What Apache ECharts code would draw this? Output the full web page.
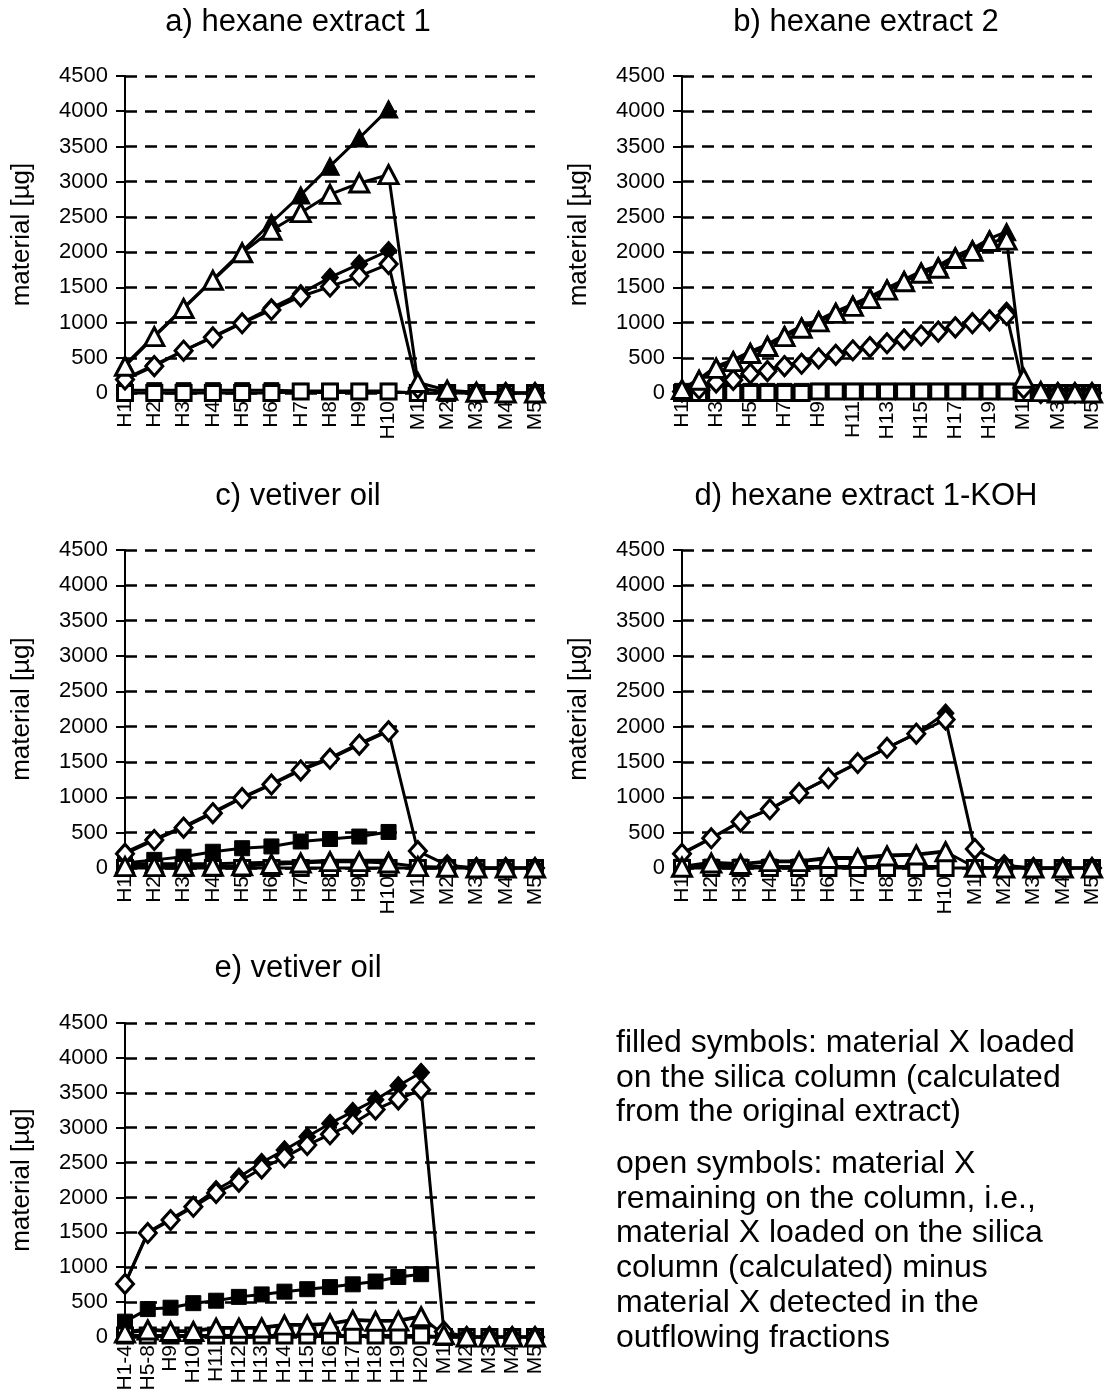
<!DOCTYPE html>
<html>
<head>
<meta charset="utf-8">
<title>Silica column elution profiles</title>
<script src="https://cdn.jsdelivr.net/npm/echarts@6/dist/echarts.min.js"></script>
<style>
  html, body { margin: 0; padding: 0; background: #fff; }
  #chart { width: 1106px; height: 1390px; }
</style>
</head>
<body>
<div id="chart"></div>
<script>
// ---- fraction labels ----
const catsA = ['H1','H2','H3','H4','H5','H6','H7','H8','H9','H10','M1','M2','M3','M4','M5'];
const catsB = ['H1','H2','H3','H4','H5','H6','H7','H8','H9','H10','H11','H12','H13','H14','H15','H16','H17','H18','H19','H20','M1','M2','M3','M4','M5'];
const catsC = catsA;
const catsD = catsA;
const catsE = ['H1-4','H5-8','H9','H10','H11','H12','H13','H14','H15','H16','H17','H18','H19','H20','M1','M2','M3','M4','M5'];

const yTicks = [0, 500, 1000, 1500, 2000, 2500, 3000, 3500, 4000, 4500];

// ---- a) hexane extract 1 (µg) ----
const aLoadedTri = [400, 810, 1210, 1610, 2010, 2420, 2810, 3220, 3620, 4030];
const aLoadedDia = [200, 400, 600, 800, 1000, 1210, 1410, 1640, 1830, 2020];
const aLoadedSq  = [40, 40, 40, 40, 40, 40, 30, 30, 30, 30];
const aRemainTri = [380, 800, 1200, 1600, 1990, 2310, 2560, 2820, 2980, 3100, 150, 40, 10, 0, 0];
const aRemainDia = [190, 380, 600, 790, 990, 1180, 1370, 1510, 1660, 1830, 70, 10, 0, 0, 0];
const aRemainSq  = [0, 0, 0, 0, 0, 0, 20, 20, 20, 20, 0, 0, 0, 0, 0];

// ---- b) hexane extract 2 ----
const bLoadedTri = [60, 200, 380, 470, 590, 690, 830, 950, 1040, 1160, 1260, 1370, 1490, 1610, 1730, 1810, 1950, 2050, 2190, 2290];
const bLoadedDia = [30, 80, 170, 200, 290, 330, 400, 430, 510, 560, 620, 670, 720, 780, 830, 890, 950, 1010, 1050, 1160];
const bLoadedSq  = [30, 30, 30, 30, 30, 30, 30, 30, 30, 30, 30, 30, 30, 30, 30, 30, 30, 30, 30, 30];
const bRemainTri = [50, 180, 350, 445, 560, 660, 800, 920, 1010, 1130, 1230, 1340, 1460, 1580, 1700, 1770, 1910, 2010, 2150, 2170, 210, 20, 0, 0, 0];
const bRemainDia = [20, 60, 150, 185, 275, 310, 380, 415, 490, 540, 605, 650, 705, 757, 815, 871, 930, 989, 1030, 1107, 66, 0, 0, 0, 0];
const bRemainSq  = [0, 0, 0, 0, 0, 0, 0, 0, 20, 20, 20, 20, 20, 20, 20, 20, 20, 20, 20, 20, 0, 0, 0, 0, 0];

// ---- c) vetiver oil ----
const cLoadedTri = [60, 60, 60, 60, 70, 80, 90, 110, 110, 110];
const cLoadedDia = [220, 410, 585, 790, 1000, 1190, 1395, 1560, 1760, 1950];
const cLoadedSq  = [70, 115, 160, 230, 280, 305, 375, 410, 445, 510];
const cRemainTri = [20, 20, 25, 25, 30, 50, 70, 90, 90, 70, 20, 10, 0, 0, 0];
const cRemainDia = [200, 395, 570, 775, 990, 1180, 1380, 1545, 1745, 1935, 240, 40, 0, 0, 0];
const cRemainSq  = [0, 0, 0, 0, 0, 0, 0, 0, 0, 0, 0, 0, 0, 0, 0];

// ---- d) hexane extract 1-KOH ----
const dLoadedTri = [20, 80, 60, 100, 100, 150, 150, 185, 195, 240];
const dLoadedDia = [210, 425, 660, 835, 1060, 1275, 1490, 1700, 1905, 2190];
const dLoadedSq  = [20, 20, 20, 20, 20, 20, 20, 20, 20, 20];
const dRemainTri = [10, 70, 50, 90, 90, 135, 135, 170, 185, 230, 10, 0, 0, 0, 0];
const dRemainDia = [200, 420, 655, 830, 1060, 1270, 1485, 1700, 1900, 2100, 270, 40, 0, 0, 0];
const dRemainSq  = [0, 0, 0, 0, 0, 0, 0, 0, 0, 0, 0, 0, 0, 0, 0];

// ---- e) vetiver oil ----
const eLoadedTri = [80, 110, 90, 90, 135, 135, 140, 180, 180, 195, 250, 235, 240, 300];
const eLoadedDia = [770, 1500, 1690, 1880, 2110, 2290, 2500, 2680, 2870, 3060, 3230, 3400, 3600, 3790];
const eLoadedSq  = [220, 400, 420, 485, 520, 575, 610, 650, 685, 715, 755, 795, 860, 900];
const eRemainTri = [55, 100, 80, 80, 125, 125, 130, 170, 170, 185, 240, 225, 230, 290, 30, 0, 0, 0, 0];
const eRemainDia = [760, 1490, 1675, 1865, 2065, 2225, 2415, 2575, 2750, 2905, 3060, 3260, 3405, 3545, 80, 0, 0, 0, 0];
const eRemainSq  = [20, 20, 20, 20, 20, 20, 20, 20, 20, 20, 20, 20, 20, 20, 0, 0, 0, 0, 0];

const panelTitles = ['a) hexane extract 1', 'b) hexane extract 2', 'c) vetiver oil', 'd) hexane extract 1-KOH', 'e) vetiver oil'];
const yName = 'material [µg]';

const noteLoaded = ['filled symbols: material X loaded', 'on the silica column (calculated', 'from the original extract)'];
const noteRemain = ['open symbols: material X', 'remaining on the column, i.e.,', 'material X loaded on the silica', 'column (calculated) minus', 'material X detected in the', 'outflowing fractions'];

// ---- layout ----
const FONT = '"Liberation Sans", Arial, Helvetica, sans-serif';
const panels = [
  { cats: catsA, grid: { left: 125, top: 76,   width: 410, height: 317 }, title: [298, 7],
    sets: [[aLoadedSq, aLoadedDia, aLoadedTri], [aRemainSq, aRemainDia, aRemainTri]], labelInterval: 0 },
  { cats: catsB, grid: { left: 682, top: 76,   width: 410, height: 317 }, title: [866, 7],
    sets: [[bLoadedSq, bLoadedDia, bLoadedTri], [bRemainSq, bRemainDia, bRemainTri]], labelInterval: 1 },
  { cats: catsC, grid: { left: 125, top: 550,  width: 410, height: 318 }, title: [298, 481],
    sets: [[cLoadedSq, cLoadedDia, cLoadedTri], [cRemainSq, cRemainDia, cRemainTri]], labelInterval: 0 },
  { cats: catsD, grid: { left: 682, top: 550,  width: 410, height: 318 }, title: [866, 481],
    sets: [[dLoadedSq, dLoadedDia, dLoadedTri], [dRemainSq, dRemainDia, dRemainTri]], labelInterval: 0 },
  { cats: catsE, grid: { left: 125, top: 1023, width: 410, height: 314 }, title: [298, 953],
    sets: [[eLoadedSq, eLoadedDia, eLoadedTri], [eRemainSq, eRemainDia, eRemainTri]], labelInterval: 0 }
];

// marker shapes, in drawing order (squares at the back, triangles in front)
const shapes = [
  { name: 'square',   symbol: 'rect',     size: [15, 15] },
  { name: 'diamond',  symbol: 'diamond',  size: [17, 19] },
  { name: 'triangle', symbol: 'triangle', size: [19, 18] }
];

const grid = [], xAxis = [], yAxis = [], series = [], title = [];

panels.forEach((p, i) => {
  // fixed plot rectangles; axis labels may hang past the canvas edge
  grid.push(Object.assign({ containLabel: false, outerBoundsMode: 'none' }, p.grid));
  title.push({
    text: panelTitles[i], left: p.title[0], top: p.title[1], textAlign: 'center', padding: 0,
    textStyle: { fontFamily: FONT, fontSize: 31, fontWeight: 'normal', color: '#000' }
  });
  xAxis.push({
    type: 'category', gridIndex: i, data: p.cats, boundaryGap: false,
    axisLine: { lineStyle: { color: '#000', width: 2 } },
    axisTick: { show: true, interval: 0, length: 5, lineStyle: { color: '#000', width: 2 } },
    axisLabel: { interval: p.labelInterval, rotate: 90, margin: 8, color: '#000', fontFamily: FONT, fontSize: 21 },
    splitLine: { show: false }
  });
  yAxis.push({
    type: 'value', gridIndex: i, min: yTicks[0], max: yTicks[yTicks.length - 1], interval: yTicks[1] - yTicks[0],
    name: yName, nameLocation: 'middle', nameGap: 90, nameRotate: 90,
    nameTextStyle: { fontFamily: FONT, fontSize: 26, color: '#000' },
    axisLine: { show: true, lineStyle: { color: '#000', width: 2 } },
    axisTick: { show: true, length: 9, lineStyle: { color: '#000', width: 2 } },
    axisLabel: { margin: 17, color: '#000', fontFamily: FONT, fontSize: 22, formatter: v => String(v) },
    splitLine: { show: true, lineStyle: { color: '#000', width: 2.5, type: [12, 8] } }
  });
  // filled (loaded) marks first, open (remaining) marks on top
  p.sets.forEach((set, filled) => {
    const isOpen = filled === 1;
    set.forEach((values, k) => {
      series.push({
        type: 'line', name: (isOpen ? 'remaining ' : 'loaded ') + shapes[k].name,
        xAxisIndex: i, yAxisIndex: i, data: values,
        symbol: shapes[k].symbol, symbolSize: shapes[k].size, showAllSymbol: true,
        clip: false, animation: false, z: isOpen ? 4 : 3,
        lineStyle: { color: '#000', width: 3 },
        itemStyle: { color: isOpen ? '#fff' : '#000', borderColor: '#000', borderWidth: isOpen ? 3 : 1 }
      });
    });
  });
});

const noteStyle = { fontFamily: FONT, fontSize: 32, fill: '#000' };
const graphic = [];
noteLoaded.forEach((t, j) => graphic.push({ type: 'text', left: 616, top: 1027 + j * 34.7, style: Object.assign({ text: t }, noteStyle) }));
noteRemain.forEach((t, j) => graphic.push({ type: 'text', left: 616, top: 1148 + j * 34.8, style: Object.assign({ text: t }, noteStyle) }));

const chart = echarts.init(document.getElementById('chart'), null, { renderer: 'canvas' });
chart.setOption({
  backgroundColor: '#fff',
  animation: false,
  title, grid, xAxis, yAxis, series, graphic
});
</script>
</body>
</html>
